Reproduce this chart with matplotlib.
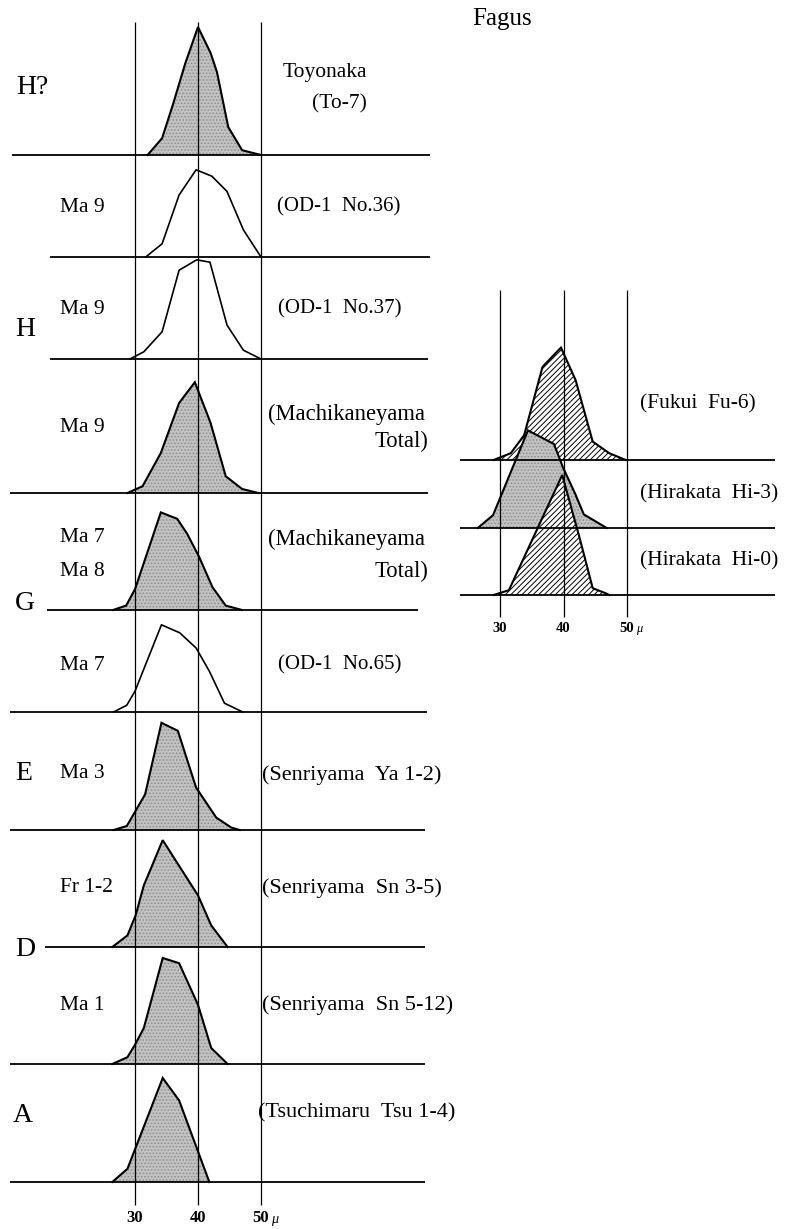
import matplotlib
matplotlib.use("Agg")
import matplotlib.pyplot as plt
import numpy as np

plt.rcParams['font.family'] = ['Liberation Serif', 'DejaVu Serif']
plt.rcParams['hatch.linewidth'] = 0.7

# ---------------- data: grain size (mu) vs frequency (%) ----------------
to7_size = [32, 34.3, 36, 38, 40, 42, 43, 44.8, 47, 50]
to7_freq = [0, 4.2, 12.5, 23, 32, 25.5, 20.8, 7, 1.2, 0]
od36_size = [31.7, 34.3, 37, 39.7, 42.2, 44.6, 47.2, 50]
od36_freq = [0, 3.3, 15.5, 21.8, 20.2, 16.4, 6.8, 0]
od37_size = [29.2, 31.4, 34.3, 37, 39.8, 41.9, 44.6, 47.2, 50]
od37_freq = [0, 1.8, 6.8, 22.2, 24.8, 24.2, 8.5, 2.2, 0]
ma9_size = [28.8, 31.2, 34.1, 37, 39.5, 42, 44.4, 47, 49.6]
ma9_freq = [0, 1.7, 10, 22.5, 27.7, 17.5, 4.2, 1, 0]
ma78_size = [26.5, 28.6, 30, 34.1, 36.7, 38.3, 40.2, 42.3, 44.4, 47]
ma78_freq = [0, 1.1, 5.2, 24.4, 22.8, 19, 13.2, 5.7, 1.1, 0]
od65_size = [26.6, 28.7, 30, 34.2, 37.1, 39.7, 41.8, 44.2, 47.1]
od65_freq = [0, 1.7, 5.2, 21.8, 19.8, 16, 10.2, 2.2, 0]
ya_size = [26.6, 28.7, 31.6, 34.2, 36.8, 39.7, 42.9, 45.3, 46.6]
ya_freq = [0, 1, 8.9, 26.8, 24.8, 10.6, 3.1, 0.6, 0]
sn35_size = [26.4, 28.8, 30.1, 31.4, 34.4, 40, 42.1, 44.7]
sn35_freq = [0, 2.9, 7.9, 15.4, 26.7, 12.9, 5.4, 0]
sn512_size = [26.4, 28.8, 30, 31.4, 34.4, 37, 40, 42.1, 44.7]
sn512_freq = [0, 1.7, 4.8, 9, 26.5, 25.2, 14.8, 4, 0]
tsu_size = [26.4, 28.8, 34.4, 37.0, 41.8]
tsu_freq = [0, 3.3, 26, 20.4, 0]

fu6_size = [29, 31.7, 33.8, 36.7, 39.6, 41.9, 44.6, 47.2, 49.8]
fu6_freq = [0, 1.7, 6.2, 23.3, 28.1, 20, 4.6, 1.7, 0]
hi3_size = [26.5, 28.9, 34.4, 38.5, 39.9, 41.8, 43.2, 46.8]
hi3_freq = [0, 3.2, 24.4, 21, 15.2, 8.7, 3.4, 0]
hi0_size = [29, 31.4, 39.8, 42.5, 44.6, 46.7, 47.2]
hi0_freq = [0, 1.2, 30, 14.5, 1.7, 0.4, 0]

stage_labels = ["H?", "H", "G", "E", "D", "A"]
zone_labels = ["Ma 9", "Ma 9", "Ma 9", "Ma 7", "Ma 8", "Ma 7", "Ma 3", "Fr 1-2", "Ma 1"]
site_labels_left = ["Toyonaka", "(To-7)", "(OD-1  No.36)", "(OD-1  No.37)",
                    "(Machikaneyama", "(Machikaneyama", "(OD-1  No.65)",
                    "(Senriyama  Ya 1-2)", "(Senriyama  Sn 3-5)",
                    "(Senriyama  Sn 5-12)", "(Tsuchimaru  Tsu 1-4)"]
site_labels_right = ["(Fukui  Fu-6)", "(Hirakata  Hi-3)", "(Hirakata  Hi-0)"]
tick_values = [30, 40, 50]

# ---------------- layout ----------------
W, H, DPI = 790, 1229, 100
PX_PER_PCT = 4.0
fig = plt.figure(figsize=(W / DPI, H / DPI), dpi=DPI)
fig.patch.set_facecolor('white')


def panel(px_left, px_right, px30, ppm):
    ax = fig.add_axes([px_left / W, 0, (px_right - px_left) / W, 1])
    ax.set_xlim(30 + (px_left - px30) / ppm, 30 + (px_right - px30) / ppm)
    ax.set_ylim(0, H / PX_PER_PCT)
    ax.axis('off')
    ax.patch.set_alpha(0)
    fx = lambda px: 30 + (px - px30) / ppm
    fy = lambda py: (H - py) / PX_PER_PCT
    return ax, fx, fy


GRAY_FACE = '#c2c2c2'
GRAY_DOT = '#8c8c8c'


def draw_curve(ax, size, freq, base, style, z):
    x = np.asarray(size, float)
    y = np.asarray(freq, float) + base
    if style == 'gray':
        ax.fill(x, y, facecolor=GRAY_FACE, edgecolor=GRAY_DOT, hatch='.....',
                lw=0, zorder=z)
        ax.plot(x, y, color='k', lw=1.5, zorder=z + 0.5, solid_joinstyle='miter')
    elif style == 'hatch':
        ax.fill(x, y, facecolor='white', edgecolor='k', hatch='//////',
                lw=0, zorder=z)
        ax.plot(x, y, color='k', lw=1.5, zorder=z + 0.5, solid_joinstyle='miter')
    else:
        ax.plot(x, y, color='k', lw=1.2, zorder=z + 0.5)


def ticks(ax, fy, py, size):
    for v in tick_values:
        ax.text(v, fy(py), str(v), ha='center', va='center', fontsize=size,
                fontweight='bold')
    ax.annotate("\u03bc", xy=(50, fy(py)), xytext=(size * 0.62, -1),
                textcoords='offset points', ha='left', va='center',
                fontsize=size * 0.85, style='italic')


# ----- left panel -----
axL, fxL, fyL = panel(0, 450, 135, 6.3)
left_rows = [  # (size, freq, style, baseline px, line start px, line end px)
    (to7_size, to7_freq, 'gray', 155, 12, 430),
    (od36_size, od36_freq, 'open', 257, 50, 430),
    (od37_size, od37_freq, 'open', 359, 50, 428),
    (ma9_size, ma9_freq, 'gray', 493, 10, 428),
    (ma78_size, ma78_freq, 'gray', 610, 47, 418),
    (od65_size, od65_freq, 'open', 712, 10, 427),
    (ya_size, ya_freq, 'gray', 830, 10, 425),
    (sn35_size, sn35_freq, 'gray', 947, 45, 425),
    (sn512_size, sn512_freq, 'gray', 1064, 10, 425),
    (tsu_size, tsu_freq, 'gray', 1182, 10, 425),
]
for i, (s, f, st, b, x0, x1) in enumerate(left_rows):
    draw_curve(axL, s, f, fyL(b), st, 2)
    axL.hlines(fyL(b), fxL(x0), fxL(x1), color='k', lw=1.3, zorder=10)
axL.vlines(tick_values, fyL(1205), fyL(22), color='k', lw=0.9, zorder=9)
ticks(axL, fyL, 1218, 12)

# ----- right panel -----
axR, fxR, fyR = panel(450, 790, 500, 6.35)
right_rows = [
    (fu6_size, fu6_freq, 'hatch', 460),
    (hi3_size, hi3_freq, 'gray', 528),
    (hi0_size, hi0_freq, 'hatch', 595),
]
for i, (s, f, st, b) in enumerate(right_rows):
    draw_curve(axR, s, f, fyR(b), st, 2 + 2 * i)
    axR.hlines(fyR(b), fxR(460), fxR(775), color='k', lw=1.3, zorder=12)
axR.vlines(tick_values, fyR(617), fyR(290), color='k', lw=0.9, zorder=11)
ticks(axR, fyR, 628, 10.5)

# ----- text -----
def t(px, py, s, size=15.5, ha='left', **kw):
    fig.text(px / W, 1 - py / H, s, ha=ha, va='center', fontsize=size, **kw)


t(472, 19, "Fagus", size=18)

stage_pos = [(16, 88), (15, 330), (15, 604), (15, 773), (15, 950), (13, 1116)]
for lab, (px, py) in zip(stage_labels, stage_pos):
    t(px, py, lab, size=20)

zone_pos = [(60, 207), (60, 309), (60, 428), (60, 537), (60, 572), (60, 665),
            (60, 773), (60, 888), (60, 1005)]
for lab, (px, py) in zip(zone_labels, zone_pos):
    t(px, py, lab)

site_pos = [(283, 72), (312, 104), (277, 207), (278, 309), (268, 414),
            (268, 539), (278, 665), (262, 775), (262, 888), (262, 1005),
            (258, 1113)]
site_size = [15.5, 15.5, 15, 15, 16.3, 16.3, 15, 16, 16, 16, 16]
for lab, (px, py), sz in zip(site_labels_left, site_pos, site_size):
    t(px, py, lab, size=sz)
t(428, 441, "Total)", ha='right', size=16.3)
t(428, 571, "Total)", ha='right', size=16.3)

for lab, py in zip(site_labels_right, [404, 494, 561]):
    t(640, py, lab, size=15.5)

fig.savefig("out.png", dpi=DPI, facecolor='white')
